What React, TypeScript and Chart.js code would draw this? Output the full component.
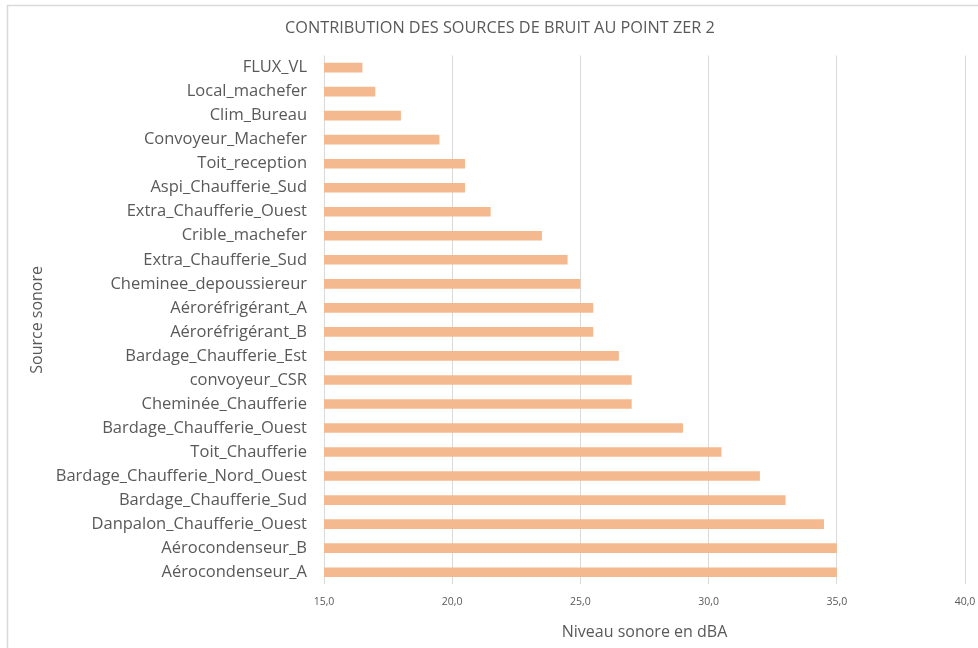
import React, { useEffect, useRef } from "react";
import { Chart, registerables } from "chart.js";

Chart.register(...registerables);

const categories: string[] = [
  "FLUX_VL",
  "Local_machefer",
  "Clim_Bureau",
  "Convoyeur_Machefer",
  "Toit_reception",
  "Aspi_Chaufferie_Sud",
  "Extra_Chaufferie_Ouest",
  "Crible_machefer",
  "Extra_Chaufferie_Sud",
  "Cheminee_depoussiereur",
  "Aéroréfrigérant_A",
  "Aéroréfrigérant_B",
  "Bardage_Chaufferie_Est",
  "convoyeur_CSR",
  "Cheminée_Chaufferie",
  "Bardage_Chaufferie_Ouest",
  "Toit_Chaufferie",
  "Bardage_Chaufferie_Nord_Ouest",
  "Bardage_Chaufferie_Sud",
  "Danpalon_Chaufferie_Ouest",
  "Aérocondenseur_B",
  "Aérocondenseur_A",
];

const levels: number[] = [
  16.5, 17.0, 18.0, 19.5, 20.5, 20.5, 21.5, 23.5, 24.5, 25.0, 25.5, 25.5,
  26.5, 27.0, 27.0, 29.0, 30.5, 32.0, 33.0, 34.5, 35.0, 35.0,
];

const titleText = "CONTRIBUTION DES SOURCES DE BRUIT AU POINT ZER 2";
const xTitle = "Niveau sonore en dBA";
const yTitle = "Source sonore";
const xMin = 15;
const xMax = 40;
const xStep = 5;

const FONT = "'Open Sans', sans-serif";
const TEXT = "#595959";
const GRID = "#D9D9D9";

const framePlugin = {
  id: "frame",
  beforeDraw(chart: any) {
    const ctx = chart.ctx;
    ctx.save();
    ctx.fillStyle = "#ffffff";
    ctx.fillRect(0, 0, chart.width, chart.height);
    ctx.strokeStyle = "#D9D9D9";
    ctx.lineWidth = 1.5;
    ctx.strokeRect(7.5, 5.5, chart.width + 20, chart.height + 20);
    ctx.restore();
  },
};

export default function App() {
  const ref = useRef<HTMLCanvasElement | null>(null);
  useEffect(() => {
    if (!ref.current) return;
    const chart = new Chart(ref.current, {
      type: "bar",
      data: {
        labels: categories,
        datasets: [
          {
            data: levels,
            backgroundColor: "#F4B98F",
            borderWidth: 0,
            categoryPercentage: 1,
            barPercentage: 0.4,
          },
        ],
      },
      plugins: [framePlugin],
      options: {
        indexAxis: "y",
        animation: false,
        responsive: false,
        layout: { padding: { left: 22, right: 0, top: 0, bottom: 0 } },
        plugins: {
          legend: { display: false },
          tooltip: { enabled: false },
          title: {
            display: true,
            text: titleText,
            color: TEXT,
            font: { family: FONT, size: 16.3, weight: "normal" },
            padding: { top: 19, bottom: 17 },
          },
        },
        scales: {
          x: {
            type: "linear",
            min: xMin,
            max: xMax,
            ticks: {
              stepSize: xStep,
              color: TEXT,
              padding: 12,
              font: { family: FONT, size: 10.5 },
              callback: (v: any) => Number(v).toFixed(1).replace(".", ","),
            },
            grid: { color: GRID, lineWidth: 1, drawTicks: false },
            border: { display: false },
            title: {
              display: true,
              text: xTitle,
              color: TEXT,
              font: { family: FONT, size: 16 },
              padding: { top: 2, bottom: 6 },
            },
            afterFit: (s: any) => {
              s.paddingRight = 13;
              s.paddingLeft = 0;
            },
          },
          y: {
            type: "category",
            ticks: {
              color: TEXT,
              padding: 17,
              font: { family: FONT, size: 16.5 },
              autoSkip: false,
            },
            grid: { display: false, drawTicks: false },
            border: { display: false },
            title: {
              display: true,
              text: yTitle,
              color: TEXT,
              font: { family: FONT, size: 16 },
              padding: { top: 6, bottom: 0 },
            },
            afterFit: (s: any) => {
              s.width = 302;
              s.paddingTop = 0;
              s.paddingBottom = 0;
            },
          },
        },
      },
    } as any);
    return () => chart.destroy();
  }, []);
  return (
    <div style={{ position: "absolute", left: 0, top: 0, width: 978, height: 648 }}>
      <canvas ref={ref} width={978} height={648} />
    </div>
  );
}
